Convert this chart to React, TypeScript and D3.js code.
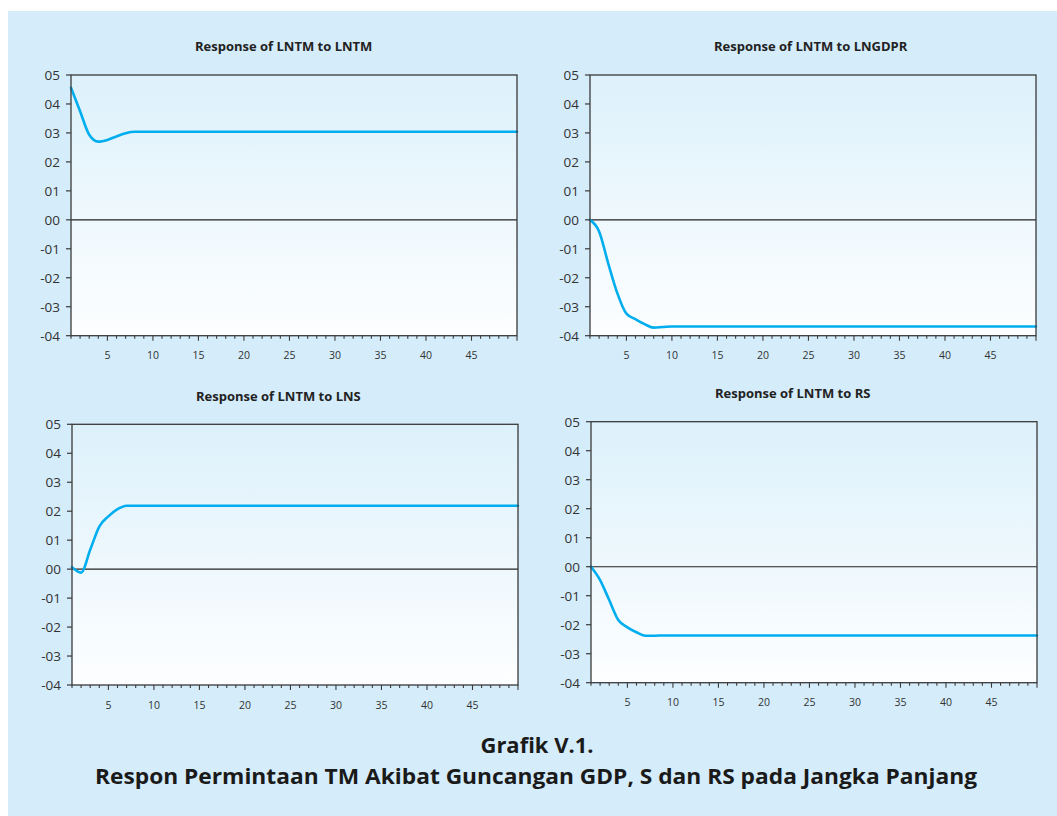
import React from "react";
import * as d3 from "d3";

// ---- DATA ----
const periods: number[] = d3.range(1, 51);
const yTickValues = [0.05, 0.04, 0.03, 0.02, 0.01, 0.0, -0.01, -0.02, -0.03, -0.04];
const yTickLabels = ["05", "04", "03", "02", "01", "00", "-01", "-02", "-03", "-04"];
const xTickValues = [5, 10, 15, 20, 25, 30, 35, 40, 45];
const xMinorTicks = d3.range(1, 51);

const panelTitles = [
  "Response of LNTM to LNTM",
  "Response of LNTM to LNGDPR",
  "Response of LNTM to LNS",
  "Response of LNTM to RS",
];

const respLNTM = [
  0.0456, 0.0375, 0.0294, 0.0270, 0.0276, 0.0288, 0.0299, 0.0304, 0.0304, 0.0304,
  0.0304, 0.0304, 0.0304, 0.0304, 0.0304, 0.0304, 0.0304, 0.0304, 0.0304, 0.0304,
  0.0304, 0.0304, 0.0304, 0.0304, 0.0304, 0.0304, 0.0304, 0.0304, 0.0304, 0.0304,
  0.0304, 0.0304, 0.0304, 0.0304, 0.0304, 0.0304, 0.0304, 0.0304, 0.0304, 0.0304,
  0.0304, 0.0304, 0.0304, 0.0304, 0.0304, 0.0304, 0.0304, 0.0304, 0.0304, 0.0304,
];
const respLNGDPR = [
  0.0, -0.0040, -0.0150, -0.0253, -0.0324, -0.0343, -0.0360, -0.0372, -0.0370, -0.0368,
  -0.0368, -0.0368, -0.0368, -0.0368, -0.0368, -0.0368, -0.0368, -0.0368, -0.0368, -0.0368,
  -0.0368, -0.0368, -0.0368, -0.0368, -0.0368, -0.0368, -0.0368, -0.0368, -0.0368, -0.0368,
  -0.0368, -0.0368, -0.0368, -0.0368, -0.0368, -0.0368, -0.0368, -0.0368, -0.0368, -0.0368,
  -0.0368, -0.0368, -0.0368, -0.0368, -0.0368, -0.0368, -0.0368, -0.0368, -0.0368, -0.0368,
];
const respLNS = [
  0.0007, -0.0012, 0.0067, 0.0147, 0.0182, 0.0207, 0.0219, 0.0219, 0.0219, 0.0219,
  0.0219, 0.0219, 0.0219, 0.0219, 0.0219, 0.0219, 0.0219, 0.0219, 0.0219, 0.0219,
  0.0219, 0.0219, 0.0219, 0.0219, 0.0219, 0.0219, 0.0219, 0.0219, 0.0219, 0.0219,
  0.0219, 0.0219, 0.0219, 0.0219, 0.0219, 0.0219, 0.0219, 0.0219, 0.0219, 0.0219,
  0.0219, 0.0219, 0.0219, 0.0219, 0.0219, 0.0219, 0.0219, 0.0219, 0.0219, 0.0219,
];
const respRS = [
  0.0, -0.0046, -0.0115, -0.0184, -0.0209, -0.0226, -0.0238, -0.0238, -0.0237, -0.0237,
  -0.0237, -0.0237, -0.0237, -0.0237, -0.0237, -0.0237, -0.0237, -0.0237, -0.0237, -0.0237,
  -0.0237, -0.0237, -0.0237, -0.0237, -0.0237, -0.0237, -0.0237, -0.0237, -0.0237, -0.0237,
  -0.0237, -0.0237, -0.0237, -0.0237, -0.0237, -0.0237, -0.0237, -0.0237, -0.0237, -0.0237,
  -0.0237, -0.0237, -0.0237, -0.0237, -0.0237, -0.0237, -0.0237, -0.0237, -0.0237, -0.0237,
];

const captionLine1 = "Grafik V.1.";
const captionLine2 = "Respon Permintaan TM Akibat Guncangan GDP, S dan RS pada Jangka Panjang";

// ---- LAYOUT ----
const W = 1057;
const H = 816;
const panels = [
  { series: respLNTM, title: panelTitles[0], left: 71, right: 517, top: 75, bottom: 335.7, titleY: 51 },
  { series: respLNGDPR, title: panelTitles[1], left: 590, right: 1036, top: 75, bottom: 335.7, titleY: 51 },
  { series: respLNS, title: panelTitles[2], left: 72, right: 518, top: 424.3, bottom: 685, titleY: 400.5 },
  { series: respRS, title: panelTitles[3], left: 591, right: 1037, top: 421.7, bottom: 682.7, titleY: 397.5 },
];

const FONT = "'Open Sans', 'DejaVu Sans', sans-serif";
const LINE_COLOR = "#00aeef";
const AXIS_COLOR = "#3a3a3a";

function Panel({ p, idx }: { p: (typeof panels)[number]; idx: number }) {
  const x = d3.scaleLinear().domain([1, 50]).range([p.left, p.right]);
  const y = d3.scaleLinear().domain([-0.04, 0.05]).range([p.bottom, p.top]);
  const line = d3
    .line<number>()
    .x((_, i) => x(periods[i]))
    .y((d) => y(d))
    .curve(d3.curveMonotoneX);
  const gid = `pg${idx}`;
  return (
    <g>
      <text
        x={p.left + 124}
        y={p.titleY}
        fontFamily={FONT}
        fontWeight={700}
        fontSize={13}
        fill="#222"
      >
        {p.title}
      </text>
      <defs>
        <linearGradient id={gid} x1="0" y1="0" x2="0" y2="1">
          <stop offset="0%" stopColor="#ddf1fb" />
          <stop offset="100%" stopColor="#fdfeff" />
        </linearGradient>
      </defs>
      <rect
        x={p.left}
        y={p.top}
        width={p.right - p.left}
        height={p.bottom - p.top}
        fill={`url(#${gid})`}
      />
      {/* zero line */}
      <line x1={p.left} x2={p.right} y1={y(0)} y2={y(0)} stroke="#222" strokeWidth={1.1} />
      {/* series */}
      <path d={line(p.series) || ""} fill="none" stroke={LINE_COLOR} strokeWidth={2.6} strokeLinejoin="round" strokeLinecap="round" />
      {/* frame */}
      <rect
        x={p.left}
        y={p.top}
        width={p.right - p.left}
        height={p.bottom - p.top}
        fill="none"
        stroke={AXIS_COLOR}
        strokeWidth={1.3}
      />
      {/* y ticks */}
      {yTickValues.map((v, i) => (
        <g key={`y${i}`}>
          <line x1={p.left - 5} x2={p.left} y1={y(v)} y2={y(v)} stroke={AXIS_COLOR} strokeWidth={1.2} />
          <text
            x={p.left - 11}
            y={y(v)}
            dy="0.36em"
            textAnchor="end"
            fontFamily={FONT}
            fontSize={13.5}
            fill="#333"
          >
            {yTickLabels[i]}
          </text>
        </g>
      ))}
      {/* x ticks */}
      {xMinorTicks.map((v) => (
        <line
          key={`xm${v}`}
          x1={x(v)}
          x2={x(v)}
          y1={p.bottom}
          y2={p.bottom + (v % 5 === 0 ? 5 : 3)}
          stroke={AXIS_COLOR}
          strokeWidth={1.1}
        />
      ))}
      {xTickValues.map((v) => (
        <text
          key={`xl${v}`}
          x={x(v)}
          y={p.bottom + 23.5}
          textAnchor="middle"
          fontFamily={FONT}
          fontSize={10.5}
          fill="#333"
        >
          {v}
        </text>
      ))}
    </g>
  );
}

export default function App() {
  return (
    <svg
      width={W}
      height={H}
      style={{ position: "absolute", left: 0, top: 0, display: "block" }}
    >
      <rect x={0} y={0} width={W} height={H} fill="#ffffff" />
      <rect x={8} y={11} width={W - 8} height={H - 11} fill="#d5ecfa" />
      {panels.map((p, i) => (
        <Panel key={i} p={p} idx={i} />
      ))}
      <text
        x={537}
        y={753}
        textAnchor="middle"
        fontFamily={FONT}
        fontWeight={700}
        fontSize={22}
        textLength={113}
        lengthAdjust="spacingAndGlyphs"
        fill="#1a1a1a"
      >
        {captionLine1}
      </text>
      <text
        x={536}
        y={784}
        textAnchor="middle"
        fontFamily={FONT}
        fontWeight={700}
        fontSize={22}
        textLength={882}
        lengthAdjust="spacingAndGlyphs"
        fill="#1a1a1a"
      >
        {captionLine2}
      </text>
    </svg>
  );
}
